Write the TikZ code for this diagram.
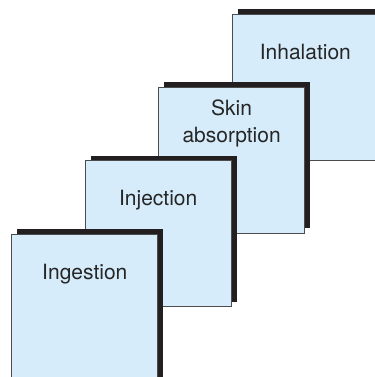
\documentclass[tikz,border=0pt]{standalone}
\usepackage{fontspec}
\setmainfont{TeX Gyre Heros}
\usetikzlibrary{shadows}
\definecolor{boxblue}{RGB}{214,236,250}
\definecolor{shadowblack}{RGB}{35,31,32}

\begin{document}
\begin{tikzpicture}[
    routebox/.style={draw=black!70, line width=0.4pt, fill=boxblue,
        minimum width=73pt, minimum height=73pt, inner sep=0pt,
        general shadow={fill=shadowblack, shadow xshift=2.75pt, shadow yshift=2.6pt}},
    boxtext/.style={anchor=north, inner sep=0pt, align=center,
        font=\fontsize{10.5pt}{13.3pt}\selectfont, text=black!85}]
                % Khung hình
                \useasboundingbox (0,0) rectangle (187.5pt,188.5pt);
                \clip (0,0) rectangle (187.5pt,188.5pt);
                
                % Các hộp, từ sau ra trước (hộp đầu và cuối bị cắt ở mép)
                \node[routebox, minimum width=80pt, anchor=north west] (inhal) at (116pt,181.5pt) {};
                \node[routebox, anchor=north east] (skin) at ([shift={(36.5pt,-36.5pt)}]inhal.north west) {};
                \node[routebox, anchor=north east] (inject) at (skin.center) {};
                \node[routebox, minimum height=80pt, anchor=north east] (ingest) at (inject.center) {};
                
                % Nhãn trong hộp
                \node[boxtext] (inhaltext) at ([xshift=-3.5pt, yshift=-15pt]inhal.north) {Inhalation};
                \node[boxtext] (skintext) at ([yshift=-6.3pt]skin.north) {Skin\\absorption};
                \node[boxtext] (injecttext) at ([yshift=-14.5pt]inject.north) {Injection};
                \node[boxtext] (ingesttext) at ([yshift=-15pt]ingest.north) {Ingestion};
            \end{tikzpicture}
\end{document}
